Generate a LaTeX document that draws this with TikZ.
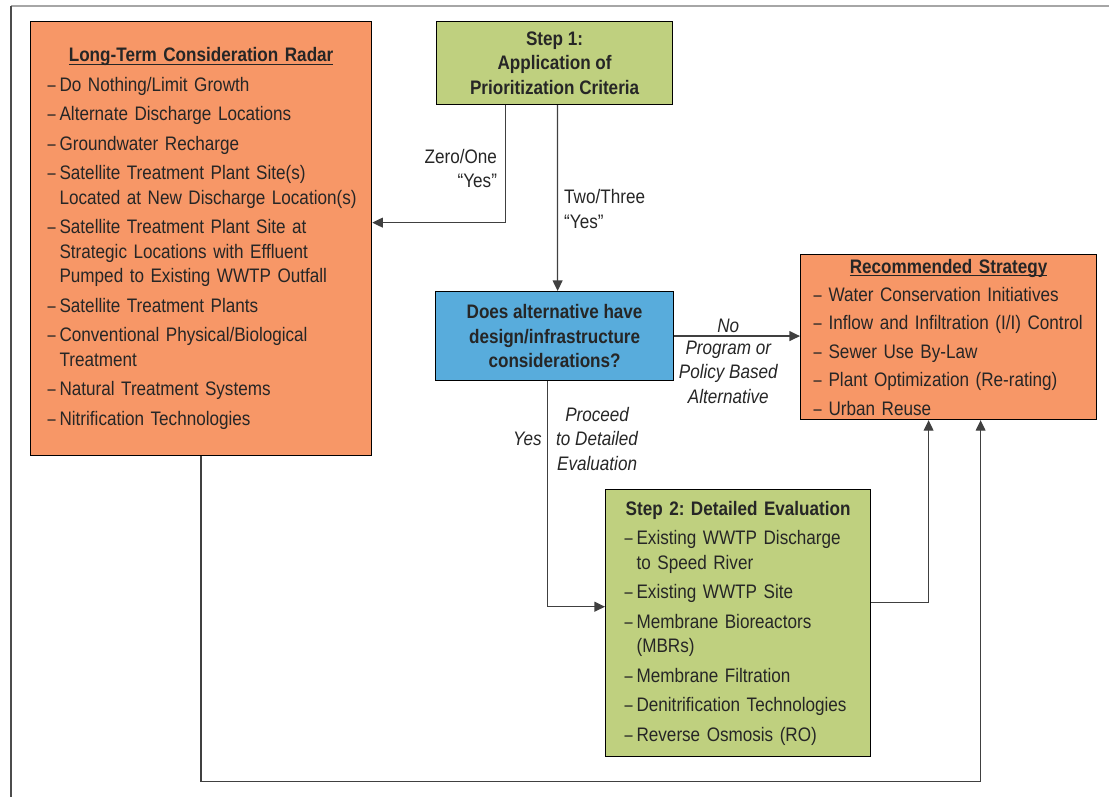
\documentclass[tikz,border=0pt]{standalone}
\usepackage{fontspec}
\setmainfont{Liberation Sans}[FakeStretch=0.875]
\usepackage{graphicx}
\usepackage{tikz}
\usetikzlibrary{arrows.meta}

\definecolor{radarorange}{RGB}{247,151,103}
\definecolor{stepgreen}{RGB}{191,208,127}
\definecolor{askblue}{RGB}{88,172,220}
\definecolor{inkgray}{RGB}{38,38,38}
\definecolor{wiregray}{RGB}{64,64,64}

% text inside the boxes
\newcommand{\boxtext}{\fontsize{13.9pt}{17.4pt}\selectfont\frenchspacing\hyphenpenalty=10000\setlength{\parskip}{3.6pt}}
\newcommand{\hdul}[1]{\setbox0\hbox{#1}\rlap{\rule[-0.08cm]{\wd0}{0.035cm}}\box0}
\newcommand{\boxhead}[1]{\noindent\makebox[\linewidth][c]{#1}\par}
\newcommand{\dashitem}[2][0.3cm]{\par\rightskip=-0.5cm plus 1fil\hangindent=#1\hangafter=1\noindent\hbox to #1{\scalebox{0.85}[1]{--}\hss}#2\par}

\begin{document}
\begin{tikzpicture}[
  x=0.025cm, y=-0.025cm,
  >={Triangle[length=7.5pt,width=7pt]},
  panel/.style={draw=black, line width=0.8pt, anchor=north west, text=inkgray, font=\boxtext, inner ysep=2pt},
  listbox/.style={panel, align=left},
  headbox/.style={panel, align=center, font=\boxtext\bfseries},
  wire/.style={draw=wiregray, line width=0.9pt, ->},
  lbl/.style={text=inkgray, font=\boxtext, inner sep=0pt},
  ital/.style={lbl, font=\boxtext\itshape}
]
\useasboundingbox (0,0) rectangle (1109,797);

% page frame
\draw[gray!70, line width=1.2pt] (11,6) -- (1109,6);
\draw[black!70, line width=1pt] (11,6) -- (11,797);

% Long-term list
\node[listbox, fill=radarorange, minimum width=8.525cm, minimum height=10.85cm, text width=7.675cm, inner xsep=0.425cm] (radar) at (30,21) {%
  \boxhead{\hdul{\textbf{Long-Term Consideration Radar}}}
  \dashitem{Do Nothing/Limit Growth}
  \dashitem{Alternate Discharge Locations}
  \dashitem{Groundwater Recharge}
  \dashitem{Satellite Treatment Plant Site(s)\newline Located at New Discharge Location(s)}
  \dashitem{Satellite Treatment Plant Site at\newline Strategic Locations with Effluent\newline Pumped to Existing WWTP Outfall}
  \dashitem{Satellite Treatment Plants}
  \dashitem{Conventional Physical/Biological\newline Treatment}
  \dashitem{Natural Treatment Systems}
  \dashitem{Nitrification Technologies}};

% Steps and decision
\node[headbox, fill=stepgreen, minimum width=5.9cm, minimum height=2.075cm] (step1) at (436,21) {Step 1:\\Application of\\Prioritization Criteria};
\node[headbox, fill=askblue, minimum width=5.95cm, minimum height=2.225cm] (ask) at (435,291) {Does alternative have\\design/infrastructure\\considerations?};

% Recommended strategy
\node[listbox, fill=radarorange, minimum width=7.4cm, minimum height=4.125cm, text width=6.75cm, inner xsep=0.325cm, font=\boxtext\setlength{\parskip}{2.8pt}] (strategy) at (800,254) {%
  \boxhead{\hdul{\textbf{Recommended Strategy}}}
  \dashitem[0.375cm]{Water Conservation Initiatives}
  \dashitem[0.375cm]{Inflow and Infiltration (I/I) Control}
  \dashitem[0.375cm]{Sewer Use By-Law}
  \dashitem[0.375cm]{Plant Optimization (Re-rating)}
  \dashitem[0.375cm]{Urban Reuse}};

% Detailed evaluation
\node[listbox, fill=stepgreen, minimum width=6.625cm, minimum height=6.675cm, text width=5.675cm, inner xsep=0.475cm] (step2) at (605,489) {%
  \boxhead{\textbf{Step 2: Detailed Evaluation}}
  \dashitem{Existing WWTP Discharge\newline to Speed River}
  \dashitem{Existing WWTP Site}
  \dashitem{Membrane Bioreactors\newline (MBRs)}
  \dashitem{Membrane Filtration}
  \dashitem{Denitrification Technologies}
  \dashitem{Reverse Osmosis (RO)}};

% Step 1 outcomes
\draw[wire] ([xshift=-1.225cm]step1.south) |- node[lbl, pos=0.27, anchor=east, xshift=-0.2cm, align=right] (zeroone) {Zero/One\\“Yes”} ([yshift=0.4cm]radar.east);
\draw[wire] ([xshift=0.075cm]step1.south) -- node[lbl, pos=0.56, anchor=west, xshift=0.15cm, align=left] (twothree) {Two/Three\\“Yes”} ([xshift=0.075cm]ask.north);

% Decision outcomes
\draw[wire] (ask.east) -- node[ital, pos=0.43, anchor=south, yshift=0.06cm] (nolbl) {No}
  node[ital, pos=0.43, anchor=north, yshift=-0.1cm, align=center] (policy) {Program or\\Policy Based\\Alternative} (strategy.west |- ask.east);
\draw[wire] ([xshift=-0.175cm]ask.south) |- node[ital, pos=0.128, anchor=east, xshift=-0.13cm] (yeslbl) {Yes}
  node[ital, pos=0.128, anchor=west, xshift=0.2cm, align=center] (proceed) {Proceed\\to Detailed\\Evaluation} ([yshift=0.41cm]step2.west);

% Into the strategy
\draw[wire] ([yshift=0.51cm]step2.east) -| ([xshift=-0.5cm]strategy.south);
\draw[wire] (radar.south) -- ++(0,325) -| ([xshift=0.8cm]strategy.south);

\end{tikzpicture}
\end{document}
